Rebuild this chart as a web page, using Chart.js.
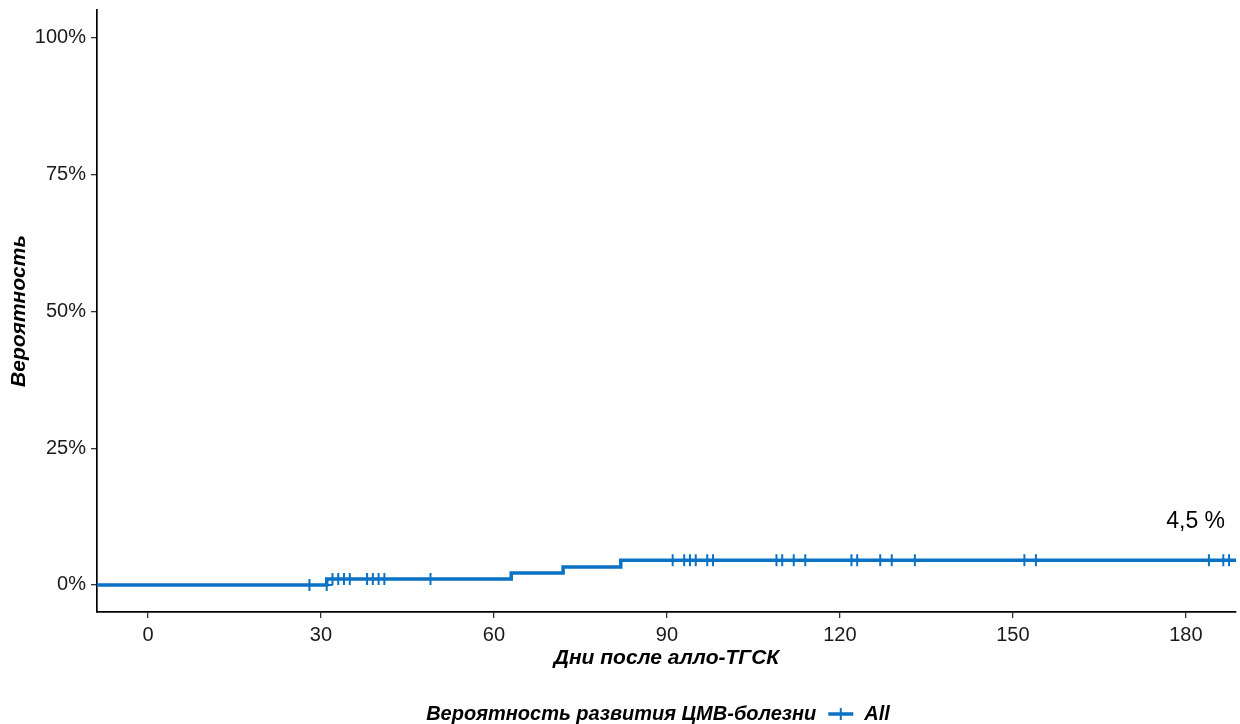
<!DOCTYPE html>
<html>
<head>
<meta charset="utf-8">
<script src="https://cdn.jsdelivr.net/npm/chart.js@4.4.0/dist/chart.umd.min.js"></script>
<style>
  html, body { margin: 0; padding: 0; background: #ffffff; }
  #wrap { width: 1240px; height: 724px; }
</style>
</head>
<body>
<div id="wrap"><canvas id="c" width="1240" height="724"></canvas></div>
<script>
// Cumulative incidence of CMV disease (step function) with censoring marks
const xRange = [-8.84, 188.7];
const eventDays = [0, 31, 63, 72, 82];
const cumIncidence = [0, 1.1, 2.2, 3.3, 4.5];
const censorDays = [28, 31, 32, 33, 34, 35, 38, 39, 40, 41, 49,
  91, 93, 94, 95, 97, 98, 109, 110, 112, 114, 122, 123, 127, 129, 133,
  152, 154, 184, 186.5, 187.5];
const xTicks = [0, 30, 60, 90, 120, 150, 180];
const yTicks = [0, 25, 50, 75, 100];
const seriesName = 'All';
const legendTitle = 'Вероятность развития ЦМВ-болезни';
const xTitle = 'Дни после алло-ТГСК';
const yTitle = 'Вероятность';

const LINE_COLOR = '#0A72C4';
const FONT = '"Liberation Sans", Arial, sans-serif';

// level of the curve just before a given day
function levelAt(day) {
  let v = 0;
  for (let i = 0; i < eventDays.length; i++) {
    if (eventDays[i] < day) v = cumIncidence[i];
  }
  return v;
}

// the curve spans the whole horizontal range of the panel
const curve = [{ x: xRange[0], y: cumIncidence[0] }];
eventDays.forEach((d, i) => curve.push({ x: d, y: cumIncidence[i] }));
curve.push({ x: xRange[1], y: cumIncidence[cumIncidence.length - 1] });

const censorPoints = censorDays.map(d => ({ x: d, y: levelAt(d) }));

const finalValue = cumIncidence[cumIncidence.length - 1];
const finalLabel = finalValue.toFixed(1).replace('.', ',') + ' %';

const decorations = {
  id: 'decorations',
  afterDraw(chart) {
    const { ctx, chartArea, scales } = chart;
    ctx.save();
    ctx.fillStyle = '#000';

    // final value annotation
    ctx.font = '23px ' + FONT;
    ctx.textAlign = 'center';
    ctx.textBaseline = 'middle';
    ctx.fillText(finalLabel, scales.x.getPixelForValue(181.7), scales.y.getPixelForValue(11.5));

    // axis titles
    ctx.font = 'italic bold 21px ' + FONT;
    ctx.fillText(xTitle, (chartArea.left + chartArea.right) / 2, 658);
    ctx.save();
    ctx.translate(19, (chartArea.top + chartArea.bottom) / 2);
    ctx.rotate(-Math.PI / 2);
    ctx.fillText(yTitle, 0, 0);
    ctx.restore();

    // legend at the bottom
    const y = 714;
    ctx.font = 'italic bold 20px ' + FONT;
    const wTitle = ctx.measureText(legendTitle).width;
    const wName = ctx.measureText(seriesName).width;
    const gap1 = 12, keyW = 25, gap2 = 11;
    const total = wTitle + gap1 + keyW + gap2 + wName;
    let x = 658 - total / 2;
    ctx.textAlign = 'left';
    ctx.fillText(legendTitle, x, y);
    x += wTitle + gap1;
    ctx.strokeStyle = LINE_COLOR;
    ctx.lineWidth = 3.5;
    ctx.beginPath();
    ctx.moveTo(x, y);
    ctx.lineTo(x + keyW, y);
    ctx.stroke();
    ctx.lineWidth = 2;
    ctx.beginPath();
    ctx.moveTo(x + keyW / 2, y - 6);
    ctx.lineTo(x + keyW / 2, y + 6);
    ctx.stroke();
    x += keyW + gap2;
    ctx.fillStyle = '#000';
    ctx.fillText(seriesName, x, y);
    ctx.restore();
  }
};

function noEdgePadding(s) {
  s.paddingLeft = 0; s.paddingRight = 0; s.paddingTop = 0; s.paddingBottom = 0;
}

new Chart(document.getElementById('c'), {
  type: 'line',
  data: {
    datasets: [
      {
        label: seriesName,
        data: curve,
        stepped: true,
        borderColor: LINE_COLOR,
        borderWidth: 3.5,
        pointRadius: 0,
        fill: false,
        tension: 0
      },
      {
        type: 'scatter',
        label: seriesName + ' (censored)',
        data: censorPoints,
        showLine: false,
        pointStyle: 'cross',
        pointRadius: 6,
        pointBorderWidth: 2,
        borderColor: LINE_COLOR,
        backgroundColor: LINE_COLOR
      }
    ]
  },
  options: {
    responsive: false,
    devicePixelRatio: 1,
    animation: false,
    layout: { autoPadding: false, padding: { top: 10, right: 4, left: 0, bottom: 0 } },
    plugins: { legend: { display: false }, tooltip: { enabled: false } },
    scales: {
      x: {
        type: 'linear',
        min: xRange[0],
        max: xRange[1],
        afterBuildTicks: s => { s.ticks = xTicks.map(v => ({ value: v })); },
        afterFit: s => { s.height = 112; noEdgePadding(s); },
        ticks: { color: '#1a1a1a', font: { size: 20, family: FONT }, padding: 5, maxRotation: 0 },
        grid: { drawOnChartArea: false, drawTicks: true, tickLength: 6, color: '#333', lineWidth: 1.3 },
        border: { display: true, color: '#000', width: 1.7 }
      },
      y: {
        type: 'linear',
        min: -4.94,
        max: 105.1,
        afterBuildTicks: s => { s.ticks = yTicks.map(v => ({ value: v })); },
        afterFit: s => { s.width = 97; noEdgePadding(s); },
        ticks: { color: '#1a1a1a', font: { size: 20, family: FONT }, padding: 5, callback: v => v + '%' },
        grid: { drawOnChartArea: false, drawTicks: true, tickLength: 6, color: '#333', lineWidth: 1.3 },
        border: { display: true, color: '#000', width: 1.7 }
      }
    }
  },
  plugins: [decorations]
});
</script>
</body>
</html>
